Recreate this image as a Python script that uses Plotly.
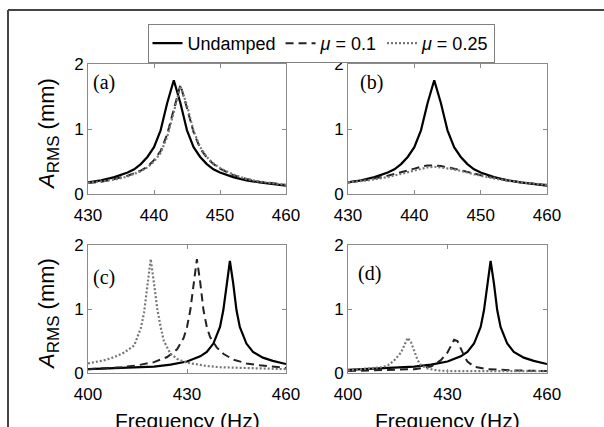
import plotly.graph_objects as go

W, H = 604, 427

# ---------------- data ----------------
# Panel (a): 430-460 Hz
a_f_und = [430, 432, 434, 436, 437, 438, 439, 440, 441, 442, 443, 444, 445, 446, 447, 448, 449, 450, 452, 454, 456, 458, 460]
a_y_und = [0.18, 0.21, 0.26, 0.33, 0.38, 0.46, 0.57, 0.72, 0.98, 1.40, 1.75, 1.40, 0.98, 0.72, 0.57, 0.46, 0.38, 0.33, 0.26, 0.21, 0.18, 0.15, 0.13]
a_f_m1 = [430, 432, 434, 436, 438, 439, 440, 441, 442, 443, 444, 445, 446, 447, 448, 449, 450, 452, 454, 456, 458, 460]
a_y_m1 = [0.17, 0.19, 0.23, 0.28, 0.36, 0.42, 0.52, 0.66, 0.92, 1.32, 1.68, 1.32, 0.95, 0.70, 0.56, 0.46, 0.39, 0.29, 0.23, 0.19, 0.16, 0.14]
a_f_m2 = [430, 432, 434, 436, 438, 439, 440, 441, 442, 443, 444, 445, 446, 447, 448, 449, 450, 452, 454, 456, 458, 460]
a_y_m2 = [0.17, 0.19, 0.22, 0.27, 0.35, 0.41, 0.50, 0.63, 0.88, 1.26, 1.66, 1.36, 0.97, 0.72, 0.57, 0.47, 0.40, 0.30, 0.23, 0.19, 0.16, 0.14]

# Panel (b): 430-460 Hz
b_f_und = a_f_und
b_y_und = [0.18, 0.21, 0.26, 0.33, 0.38, 0.46, 0.57, 0.72, 0.98, 1.40, 1.75, 1.40, 0.98, 0.72, 0.57, 0.46, 0.38, 0.33, 0.26, 0.21, 0.18, 0.15, 0.13]
b_f_m1 = [430, 433, 436, 438, 440, 441, 442, 443, 444, 446, 448, 450, 453, 456, 460]
b_y_m1 = [0.18, 0.22, 0.28, 0.33, 0.39, 0.42, 0.44, 0.44, 0.43, 0.39, 0.34, 0.29, 0.23, 0.18, 0.14]
b_f_m2 = [430, 433, 436, 438, 440, 442, 443, 444, 446, 448, 450, 453, 456, 460]
b_y_m2 = [0.18, 0.21, 0.26, 0.31, 0.37, 0.41, 0.42, 0.41, 0.38, 0.33, 0.28, 0.22, 0.18, 0.14]

# Panel (c): 400-460 Hz
c_f_und = [400, 410, 420, 425, 430, 434, 436, 438, 440, 441, 442, 443, 444, 445, 446, 448, 450, 453, 456, 460]
c_y_und = [0.06, 0.08, 0.10, 0.13, 0.18, 0.26, 0.33, 0.46, 0.72, 0.98, 1.40, 1.75, 1.40, 0.98, 0.72, 0.46, 0.33, 0.24, 0.19, 0.14]
c_f_m1 = [400, 410, 415, 420, 424, 427, 429, 430, 431, 432, 433, 434, 435, 436, 437, 439, 441, 444, 448, 452, 456, 460]
c_y_m1 = [0.06, 0.09, 0.12, 0.17, 0.25, 0.37, 0.55, 0.72, 0.98, 1.42, 1.78, 1.42, 0.98, 0.72, 0.56, 0.40, 0.30, 0.21, 0.15, 0.12, 0.10, 0.08]
c_f_m2 = [400, 405, 408, 411, 414, 416, 417, 418, 419, 420, 421, 422, 423, 425, 427, 430, 433, 436, 440, 445, 450, 455, 460]
c_y_m2 = [0.15, 0.20, 0.25, 0.32, 0.43, 0.70, 0.95, 1.35, 1.78, 1.40, 1.00, 0.72, 0.50, 0.30, 0.22, 0.16, 0.13, 0.11, 0.09, 0.08, 0.07, 0.06, 0.06]

# Panel (d): 400-460 Hz
d_f_und = c_f_und
d_y_und = [0.05, 0.07, 0.10, 0.13, 0.18, 0.26, 0.33, 0.46, 0.72, 0.98, 1.40, 1.75, 1.40, 0.98, 0.72, 0.46, 0.33, 0.24, 0.19, 0.14]
d_f_m1 = [400, 410, 420, 425, 428, 430, 431, 432, 433, 434, 435, 436, 438, 442, 450, 460]
d_y_m1 = [0.03, 0.04, 0.06, 0.10, 0.20, 0.32, 0.42, 0.52, 0.50, 0.38, 0.27, 0.18, 0.10, 0.06, 0.04, 0.03]
d_f_m2 = [400, 405, 410, 412, 414, 416, 417, 418, 419, 420, 421, 422, 424, 427, 430, 440, 460]
d_y_m2 = [0.04, 0.06, 0.09, 0.12, 0.20, 0.32, 0.45, 0.55, 0.48, 0.35, 0.20, 0.12, 0.07, 0.04, 0.03, 0.03, 0.03]

series_names = ["Undamped", "<i>μ</i> = 0.1", "<i>μ</i> = 0.25"]
panel_labels = ["(a)", "(b)", "(c)", "(d)"]
top_ticks = [430, 440, 450, 460]
bottom_ticks = [400, 430, 460]
y_ticks = [0, 1, 2]

panels = [
    (a_f_und, a_y_und, a_f_m1, a_y_m1, a_f_m2, a_y_m2),
    (b_f_und, b_y_und, b_f_m1, b_y_m1, b_f_m2, b_y_m2),
    (c_f_und, c_y_und, c_f_m1, c_y_m1, c_f_m2, c_y_m2),
    (d_f_und, d_y_und, d_f_m1, d_y_m1, d_f_m2, d_y_m2),
]

# ---------------- layout geometry (pixels) ----------------
boxes = [  # left, right, top, bottom
    (88, 286, 64, 194),
    (348, 547, 64, 194),
    (88, 286, 245, 373),
    (348, 547, 245, 373),
]

def px(x):
    return x / W

def py(y):
    return 1 - y / H

styles = [
    dict(color="black", width=2.2, dash="solid"),
    dict(color="#222222", width=2.0, dash="8px,5px"),
    dict(color="#777777", width=2.2, dash="2px,2px"),
]

fig = go.Figure()
for i, data in enumerate(panels):
    ax = "" if i == 0 else str(i + 1)
    for s in range(3):
        fig.add_trace(go.Scatter(
            x=data[2 * s], y=data[2 * s + 1], mode="lines",
            line=styles[s], name=series_names[s],
            legendgroup=str(s), showlegend=(i == 0),
            xaxis="x" + ax, yaxis="y" + ax,
        ))

tickfont = dict(family="Liberation Sans, Arial, sans-serif", size=17, color="black")
axis_common = dict(
    showline=True, linecolor="#8a8a8a", linewidth=1, mirror="ticks",
    ticks="inside", ticklen=4, tickcolor="#8a8a8a", showgrid=False,
    zeroline=False, tickfont=tickfont, fixedrange=True, automargin=False,
)

layout = dict(
    template="none",
    width=W, height=H, margin=dict(l=0, r=0, t=0, b=0, pad=0, autoexpand=False),
    paper_bgcolor="white", plot_bgcolor="white",
    showlegend=True,
    legend=dict(
        orientation="h", x=px(321), xanchor="center", y=py(24), yanchor="top",
        bordercolor="#808080", borderwidth=1, bgcolor="white",
        font=dict(family="Liberation Sans, Arial, sans-serif", size=18, color="black"),
        tracegroupgap=0, itemwidth=30,
    ),
)

for i, (l, r, t, b) in enumerate(boxes):
    ax = "" if i == 0 else str(i + 1)
    xr = [430, 460] if i < 2 else [400, 460]
    xt = top_ticks if i < 2 else bottom_ticks
    layout["xaxis" + ax] = dict(axis_common, domain=[px(l), px(r)], range=xr,
                                tickvals=xt, anchor="y" + ax, ticklabelstandoff=6)
    layout["yaxis" + ax] = dict(axis_common, domain=[py(b), py(t)], range=[0, 2],
                                tickvals=y_ticks, anchor="x" + ax)

annotations = []
label_pos = [(91, 69), (358, 69), (91, 264), (356, 260)]
for lab, (lx, ly) in zip(panel_labels, label_pos):
    annotations.append(dict(
        text=lab, x=px(lx), y=py(ly), xref="paper", yref="paper",
        xanchor="left", yanchor="top", showarrow=False,
        font=dict(family="Liberation Serif, DejaVu Serif, serif", size=20, color="black"),
    ))
for (l, r, t, b) in boxes[0::2]:
    annotations.append(dict(
        text="<i>A</i><sub><span style='font-size:17px'>RMS</span></sub> (mm)",
        x=px(48), y=py((t + b) / 2 + 5),
        xref="paper", yref="paper", xanchor="center", yanchor="middle",
        textangle=-90, showarrow=False,
        font=dict(family="Liberation Sans, Arial, sans-serif", size=22, color="black"),
    ))
for (l, r, t, b) in boxes[2:]:
    annotations.append(dict(
        text="Frequency (Hz)", x=px((l + r) / 2), y=py(420),
        xref="paper", yref="paper", xanchor="center", yanchor="middle",
        showarrow=False,
        font=dict(family="Liberation Sans, Arial, sans-serif", size=21, color="black"),
    ))
layout["annotations"] = annotations

frame = dict(color="#444444", width=2)
layout["shapes"] = [
    dict(type="line", xref="paper", yref="paper", x0=px(8), x1=px(8), y0=0, y1=py(10), line=frame),
    dict(type="line", xref="paper", yref="paper", x0=px(8), x1=1, y0=py(10), y1=py(10), line=frame),
]

fig.update_layout(**layout)
fig.write_html(
    "out.html",
    config={"displayModeBar": False, "staticPlot": True},
    post_script="document.body.style.margin='0';document.body.style.overflow='hidden';",
)
